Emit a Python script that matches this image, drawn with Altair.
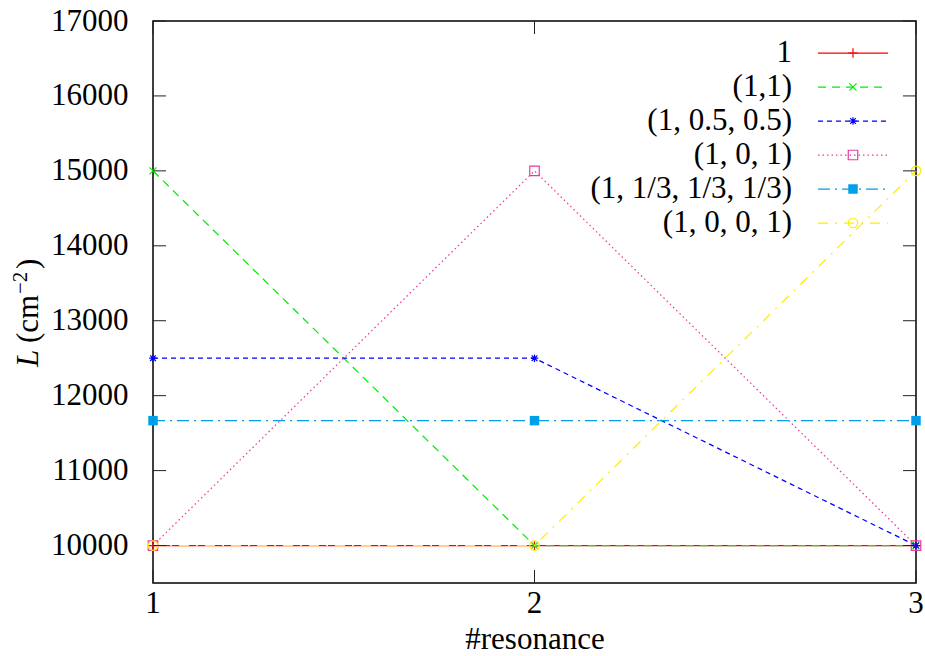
import altair as alt
import pandas as pd

# ---- data ---------------------------------------------------------------
resonance = [1, 2, 3]
series_names = ["1", "(1,1)", "(1, 0.5, 0.5)", "(1, 0, 1)", "(1, 1/3, 1/3, 1/3)", "(1, 0, 0, 1)"]
L_single = [10000, 10000, 10000]
L_pair = [15000, 10000, 10000]
L_half = [12500, 12500, 10000]
L_middle = [10000, 15000, 10000]
L_third = [11666.7, 11666.7, 11666.7]
L_ends = [10000, 10000, 15000]
series_values = [L_single, L_pair, L_half, L_middle, L_third, L_ends]

x_ticks = [1, 2, 3]
y_ticks = [10000, 11000, 12000, 13000, 14000, 15000, 16000, 17000]

# ---- styles -------------------------------------------------------------
colors = ["#ff0000", "#00ee00", "#0000ff", "#ea3a9c", "#00a0e8", "#ffee00"]
dashes = [[1, 0], [8, 6], [5, 4], [1.5, 3], [12, 5, 2, 5], [10, 7, 2, 7]]
PLUS = "M-1,0L1,0M0,-1L0,1"
CROSS = "M-0.75,-0.75L0.75,0.75M-0.75,0.75L0.75,-0.75"
STAR = "M-0.8,0L0.8,0M0,-0.8L0,0.8M-0.6,-0.6L0.6,0.6M-0.6,0.6L0.6,-0.6"
shapes = [PLUS, CROSS, STAR, "square", "square", "circle"]
FILLED = "(1, 1/3, 1/3, 1/3)"

FONT = "Liberation Serif"
FS = 31
W, H = 763, 562
Y_MIN, Y_MAX = 9500, 17000
TL_PX = 13
tl_y = TL_PX / H * (Y_MAX - Y_MIN)

x_scale = alt.Scale(domain=[1, 3], nice=False, zero=False)
y_scale = alt.Scale(domain=[Y_MIN, Y_MAX], nice=False, zero=False)

# one line (plus its markers) per series
layers = []
for name, vals, col, dash, shp in zip(series_names, series_values, colors, dashes, shapes):
    sdf = pd.DataFrame({"resonance": resonance, "L": vals})
    c = alt.Chart(sdf)
    layers.append(c.mark_line(color=col, strokeWidth=1.25, strokeDash=dash).encode(
        x=alt.X("resonance:Q", scale=x_scale,
                axis=alt.Axis(values=x_ticks, labels=False, ticks=False, grid=False, domain=False,
                              title="#resonance", titleFont=FONT, titleFontSize=FS,
                              titleFontWeight="normal", titleColor="black",
                              titleBaseline="alphabetic", titleY=65)),
        y=alt.Y("L:Q", scale=y_scale,
                axis=alt.Axis(values=y_ticks, format="d", grid=False, ticks=False, domain=False,
                              labelFlush=False, labelOverlap=False, labelFont=FONT,
                              labelFontSize=FS, labelColor="black", labelPadding=25, title=None)),
    ))
    layers.append(c.mark_point(shape=shp, size=90, strokeWidth=1.2, color=col, opacity=1,
                               filled=(name == FILLED)).encode(x="resonance:Q", y="L:Q"))

# x tick labels and inward ticks on all four sides
xt = alt.Chart(pd.DataFrame({"resonance": x_ticks})).transform_calculate(
    lo=f"{Y_MIN}", lo2=f"{Y_MIN + tl_y}", hi=f"{Y_MAX}", hi2=f"{Y_MAX - tl_y}"
)
yt = alt.Chart(pd.DataFrame({"L": y_ticks}))
decor = [
    xt.mark_text(baseline="top", font=FONT, fontSize=FS, color="black", dy=6).encode(
        x="resonance:Q", y="lo:Q", text=alt.Text("resonance:Q", format="d")),
    xt.mark_rule(color="#222", strokeWidth=1).encode(x="resonance:Q", y="lo:Q", y2="lo2:Q"),
    xt.mark_rule(color="#222", strokeWidth=1).encode(x="resonance:Q", y="hi:Q", y2="hi2:Q"),
    yt.mark_rule(color="#222", strokeWidth=1).encode(y="L:Q", x=alt.value(0), x2=alt.value(TL_PX)),
    yt.mark_rule(color="#222", strokeWidth=1).encode(y="L:Q", x=alt.value(W - TL_PX), x2=alt.value(W)),
]

# key in the top-right corner: label, line sample, marker
key = []
key_src = alt.Chart(pd.DataFrame({"k": [0]}))
for i, name in enumerate(series_names):
    ky = 32 + 34 * i
    key.append(key_src.mark_text(align="right", baseline="middle", font=FONT, fontSize=FS, color="black").encode(
        x=alt.value(639), y=alt.value(ky), text=alt.value(name)))
    key.append(key_src.mark_rule(color=colors[i], strokeWidth=1.25, strokeDash=dashes[i]).encode(
        x=alt.value(665), x2=alt.value(735), y=alt.value(ky)))
    key.append(key_src.mark_point(
        shape=shapes[i], size=90, strokeWidth=1.2, color=colors[i], opacity=1,
        filled=(name == FILLED),
    ).encode(x=alt.value(700), y=alt.value(ky)))

# rotated y-axis title: italic L, then (cm^-2)
ytitle = [
    key_src.mark_text(angle=270, align="left", baseline="alphabetic", font=FONT, fontSize=FS,
                      fontStyle="italic", color="black").encode(x=alt.value(-115), y=alt.value(346), text=alt.value("L")),
    key_src.mark_text(angle=270, align="left", baseline="alphabetic", font=FONT, fontSize=FS,
                      color="black").encode(x=alt.value(-115), y=alt.value(322), text=alt.value("(cm")),
    key_src.mark_text(angle=270, align="left", baseline="alphabetic", font=FONT, fontSize=21,
                      color="black").encode(x=alt.value(-126), y=alt.value(273), text=alt.value("\u22122")),
    key_src.mark_text(angle=270, align="left", baseline="alphabetic", font=FONT, fontSize=FS,
                      color="black").encode(x=alt.value(-115), y=alt.value(248), text=alt.value(")")),
]

chart = alt.layer(*layers, *decor, *key, *ytitle).properties(
    width=W, height=H,
    background="white",
    autosize=alt.AutoSizeParams(type="none"),
    padding={"left": 153, "top": 21, "right": 9, "bottom": 73},
).configure_axis(
    grid=False, ticks=False, domain=False, labelFlush=False, labelOverlap=False,
).configure_view(stroke="black", strokeWidth=1.5)

chart.save("out.html", embed_options={"renderer": "svg", "actions": False})
